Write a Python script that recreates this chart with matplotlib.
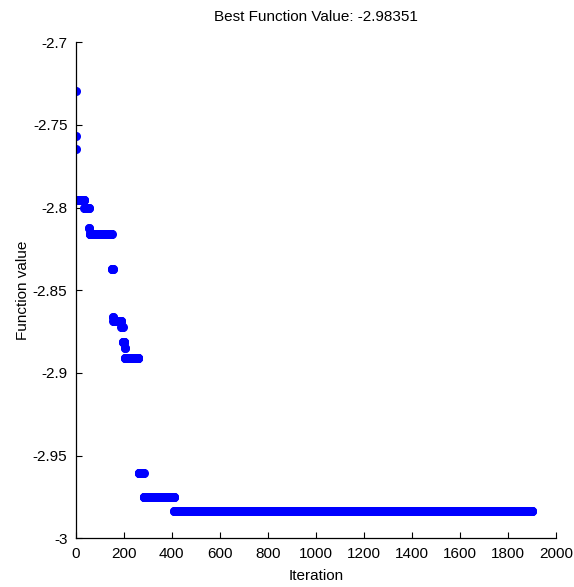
import numpy as np
import matplotlib.pyplot as plt

# step table: iteration where each best value starts
step_start = [1, 2, 3, 4, 36, 56, 58, 150, 155, 157, 190, 196, 203, 205, 262, 283, 410]
step_value = [-2.7295, -2.7565, -2.7643, -2.7956, -2.8002, -2.8125, -2.8157, -2.8373,
              -2.8662, -2.8683, -2.8725, -2.8813, -2.885, -2.8907, -2.9605, -2.9751, -2.98351]
last_iter = 1900

xticks = [0, 200, 400, 600, 800, 1000, 1200, 1400, 1600, 1800, 2000]
yticks = [-3, -2.95, -2.9, -2.85, -2.8, -2.75, -2.7]
ytick_labels = ['-3', '-2.95', '-2.9', '-2.85', '-2.8', '-2.75', '-2.7']

plt.rcParams['font.family'] = ['Liberation Sans', 'DejaVu Sans']

ends = step_start[1:] + [last_iter + 1]
iters = []
vals = []
for s, e, v in zip(step_start, ends, step_value):
    for it in range(s, e):
        iters.append(it)
        vals.append(v)

fig = plt.figure(figsize=(5.74, 5.87), dpi=100)
ax = fig.add_axes([0.132, 0.083, 0.837, 0.845])
ax.plot(iters, vals, 'o', color='#0000ff', markersize=6.5, markeredgewidth=0)

ax.set_xlim(0, 2000)
ax.set_ylim(-3, -2.7)
ax.set_xticks(xticks)
ax.set_xticklabels([str(t) for t in xticks])
ax.set_yticks(yticks)
ax.set_yticklabels(ytick_labels)
ax.tick_params(direction='in', length=4, width=0.8, labelsize=11, pad=6)
ax.spines['top'].set_visible(False)
ax.spines['right'].set_visible(False)
for sp in ['left', 'bottom']:
    ax.spines[sp].set_linewidth(0.9)

ax.set_title('Best Function Value: -2.98351', fontsize=11, pad=15)
ax.set_xlabel('Iteration', fontsize=11, labelpad=6)
ax.set_ylabel('Function value', fontsize=11, labelpad=2)

fig.savefig('out.png', dpi=100)
